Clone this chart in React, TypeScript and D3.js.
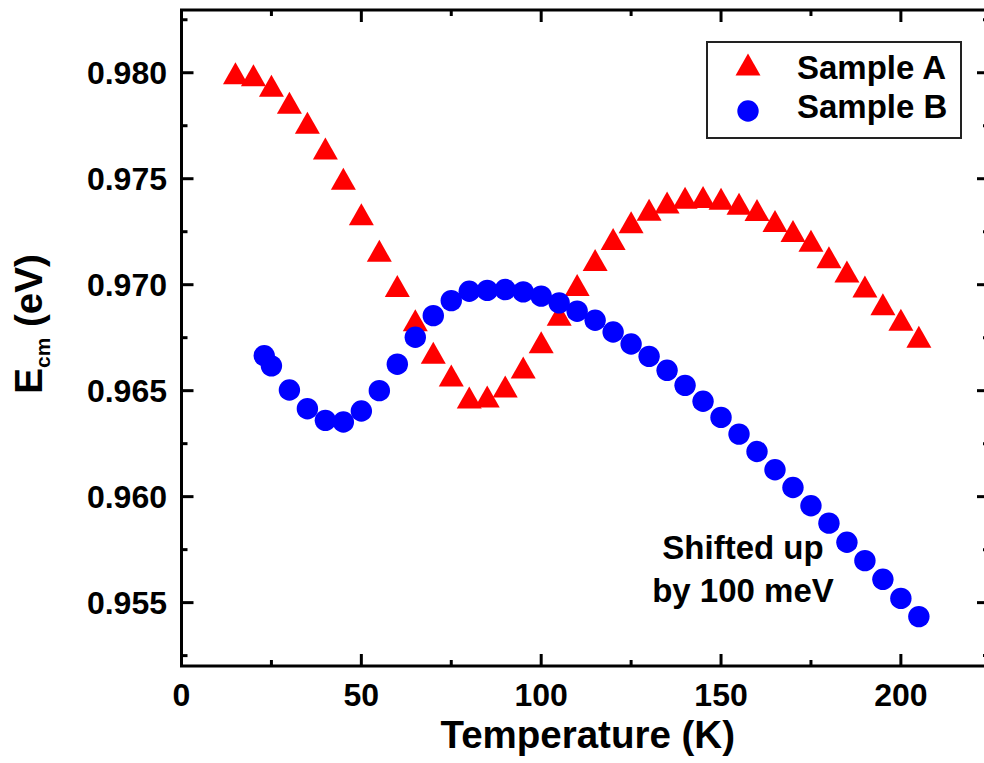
import React from 'react';
import * as d3 from 'd3';

// temperatures (K) and E_cm (eV)
const tempsA = [15, 20, 25, 30, 35, 40, 45, 50, 55, 60, 65, 70, 75, 80, 85, 90, 95, 100, 105, 110,
  115, 120, 125, 130, 135, 140, 145, 150, 155, 160, 165, 170, 175, 180, 185, 190, 195, 200, 205];
const sampleA = [0.97997, 0.97988, 0.97939, 0.97858, 0.97764, 0.97642, 0.975, 0.97332, 0.9716, 0.96994,
  0.96832, 0.96679, 0.96571, 0.96468, 0.96473, 0.9652, 0.96609, 0.96728, 0.96858, 0.96999,
  0.97116, 0.97215, 0.97295, 0.97354, 0.97388, 0.9741, 0.97414, 0.97406, 0.97382, 0.97352,
  0.97301, 0.97253, 0.97207, 0.9713, 0.97062, 0.96992, 0.96908, 0.96835, 0.96754];

const tempsB = [23, 25, 30, 35, 40, 45, 50, 55, 60, 65, 70, 75, 80, 85, 90, 95, 100, 105, 110,
  115, 120, 125, 130, 135, 140, 145, 150, 155, 160, 165, 170, 175, 180, 185, 190, 195, 200, 205];
const sampleB = [0.96665, 0.96617, 0.96503, 0.96415, 0.9636, 0.96352, 0.96404, 0.965, 0.96625,
  0.96752, 0.96854, 0.96925, 0.96969, 0.96973, 0.96977, 0.96966, 0.96946, 0.96914, 0.96875,
  0.96832, 0.96777, 0.9672, 0.96662, 0.96596, 0.96525, 0.9645, 0.96374, 0.96295, 0.96213,
  0.96127, 0.96043, 0.95957, 0.95875, 0.95785, 0.95698, 0.9561, 0.9552, 0.95434];

const xMajorTicks = [0, 50, 100, 150, 200];
const xMinorTicks = [25, 75, 125, 175];
const yMajorTicks = [0.955, 0.96, 0.965, 0.97, 0.975, 0.98];
const yMinorTicks = [0.9525, 0.9575, 0.9625, 0.9675, 0.9725, 0.9775, 0.9825];

const legendLabels = ['Sample A', 'Sample B'];

const font = "'Liberation Sans', Arial, Helvetica, sans-serif";

const App = () => {
  const width = 984;
  const height = 763;

  const x = d3.scaleLinear().domain([0, 224.5]).range([181.5, 989]);
  const y = d3.scaleLinear().domain([0.95201, 0.98296]).range([666, 10]);

  const [x0, x1] = x.range();
  const [y0, y1] = y.range(); // y0 bottom, y1 top

  const triW = 25;
  const triH = 22;
  const tri = (cx: number, cy: number) =>
    `M${cx},${cy - triH / 2}L${cx + triW / 2},${cy + triH / 2}L${cx - triW / 2},${cy + triH / 2}Z`;

  const major = 12;
  const minor = 6;

  return (
    <svg width={width} height={height} style={{ position: 'absolute', left: 0, top: 0, background: '#fff' }}
      fontFamily={font} fontWeight="bold">
      <rect width={width} height={height} fill="#fff" />

      {/* data: triangles first, circles on top */}
      <g fill="#ff0000">
        {tempsA.map((t, i) => (
          <path key={'a' + i} d={tri(x(t), y(sampleA[i]))} />
        ))}
      </g>
      <g fill="#0000ff">
        {tempsB.map((t, i) => (
          <circle key={'b' + i} cx={x(t)} cy={y(sampleB[i])} r={10.7} />
        ))}
      </g>

      {/* frame and ticks */}
      <g stroke="#000" strokeWidth={3} fill="none">
        <rect x={x0} y={y1} width={x1 - x0} height={y0 - y1} />
        {xMajorTicks.map((t) => (
          <g key={'xm' + t}>
            <line x1={x(t)} x2={x(t)} y1={y0} y2={y0 - major} />
            <line x1={x(t)} x2={x(t)} y1={y1} y2={y1 + major} />
          </g>
        ))}
        {xMinorTicks.map((t) => (
          <g key={'xn' + t}>
            <line x1={x(t)} x2={x(t)} y1={y0} y2={y0 - minor} />
            <line x1={x(t)} x2={x(t)} y1={y1} y2={y1 + minor} />
          </g>
        ))}
        {yMajorTicks.map((v) => (
          <g key={'ym' + v}>
            <line x1={x0} x2={x0 + major} y1={y(v)} y2={y(v)} />
            <line x1={x1} x2={x1 - major} y1={y(v)} y2={y(v)} />
          </g>
        ))}
        {yMinorTicks.map((v) => (
          <g key={'yn' + v}>
            <line x1={x0} x2={x0 + minor} y1={y(v)} y2={y(v)} />
            <line x1={x1} x2={x1 - minor} y1={y(v)} y2={y(v)} />
          </g>
        ))}
      </g>

      {/* tick labels */}
      <g fontSize={32} fill="#000">
        {xMajorTicks.map((t) => (
          <text key={'xl' + t} x={x(t)} y={706} textAnchor="middle">{t}</text>
        ))}
        {yMajorTicks.map((v) => (
          <text key={'yl' + v} x={167} y={y(v) + 11.5} textAnchor="end">{d3.format('.3f')(v)}</text>
        ))}
      </g>

      {/* axis titles */}
      <text x={(x0 + 984) / 2 + 5} y={748} textAnchor="middle" fontSize={38.5}>Temperature (K)</text>
      <text transform="translate(41.7,324) rotate(-90)" textAnchor="middle" fontSize={38.5}>
        E<tspan fontSize={21} dy={8}>cm</tspan><tspan dy={-8}> (eV)</tspan>
      </text>

      {/* legend */}
      <rect x={707} y={42} width={254} height={96} fill="#fff" stroke="#222" strokeWidth={2} />
      <path d={tri(748, 64.5)} fill="#ff0000" />
      <circle cx={748} cy={111} r={10.7} fill="#0000ff" />
      <text x={797} y={79} fontSize={33}>{legendLabels[0]}</text>
      <text x={797} y={118} fontSize={33}>{legendLabels[1]}</text>

      {/* annotation */}
      <text x={743} y={559} textAnchor="middle" fontSize={33}>Shifted up</text>
      <text x={743} y={601.5} textAnchor="middle" fontSize={33}>by 100 meV</text>
    </svg>
  );
};

export default App;
